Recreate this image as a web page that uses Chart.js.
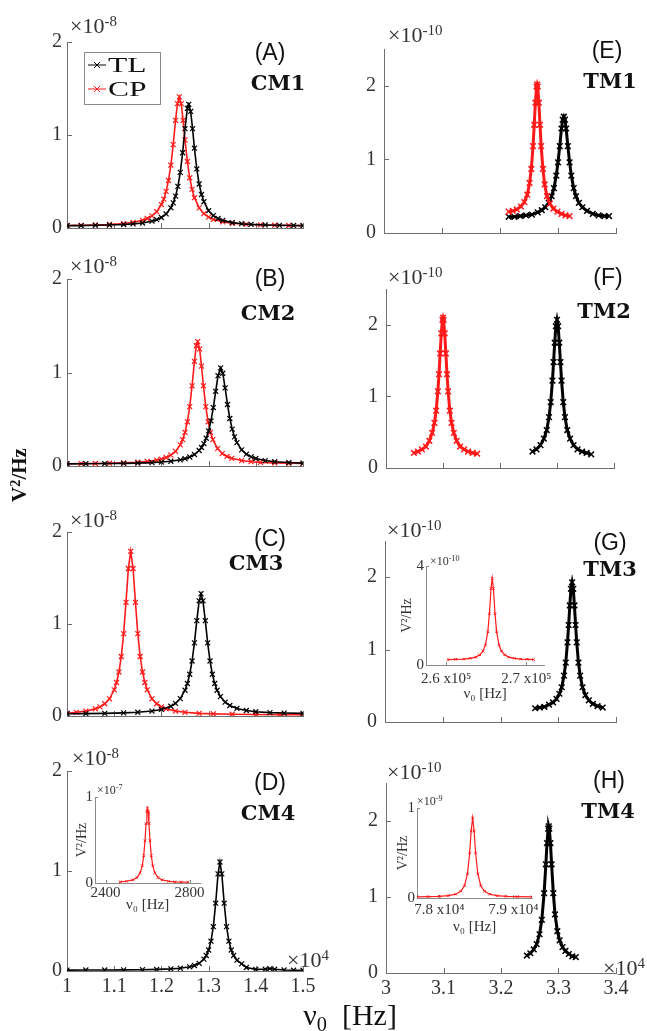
<!DOCTYPE html>
<html>
<head>
<meta charset="utf-8">
<title>TL / CP noise spectra</title>
<script src="https://cdn.jsdelivr.net/npm/chart.js@4"></script>
<style>
  body { margin: 0; background: #fff; }
  #fig { position: relative; width: 647px; height: 1031px; overflow: hidden; font-family: 'Liberation Serif', serif; color: #1a1a1a; }
  #fig canvas { position: absolute; }
  .lab { position: absolute; white-space: nowrap; line-height: 1; }
  .lab sup { font-size: 0.68em; position: relative; top: -0.45em; vertical-align: baseline; }
  .lab sub { font-size: 0.68em; position: relative; top: 0.3em; vertical-align: baseline; }
</style>
</head>
<body>
<div id="fig"></div>
<script>
// CM panels: x in 1e4 Hz, y in 1e-8 V^2/Hz
const cmTicksX = [1, 1.1, 1.2, 1.3, 1.4, 1.5]
const cmTicksY = [0, 1, 2]
// TM panels: x in 1e4 Hz, y in 1e-10 V^2/Hz
const tmTicksX = [3, 3.1, 3.2, 3.3, 3.4]
const tmTicksY = [0, 1, 2]

// (A) CM1
const cm1TLx = [1.00,1.03,1.06,1.09,1.12,1.14,1.16,1.18,1.19,1.20,1.21,1.22,1.225,1.23,1.235,1.24,1.245,1.25,1.255,1.258,1.262,1.266,1.27,1.275,1.28,1.285,1.29,1.30,1.31,1.32,1.33,1.35,1.37,1.39,1.42,1.45,1.48,1.50]
const cm1TLy = [0.025,0.026,0.029,0.032,0.037,0.044,0.054,0.073,0.089,0.113,0.151,0.217,0.27,0.343,0.447,0.598,0.809,1.068,1.286,1.33,1.253,1.068,0.858,0.635,0.473,0.36,0.282,0.186,0.133,0.102,0.082,0.058,0.046,0.039,0.033,0.029,0.027,0.026]
const cm1CPx = [1.00,1.03,1.06,1.09,1.12,1.14,1.16,1.17,1.18,1.19,1.20,1.205,1.21,1.215,1.22,1.225,1.23,1.234,1.238,1.242,1.246,1.25,1.255,1.26,1.265,1.27,1.28,1.29,1.30,1.31,1.33,1.35,1.38,1.41,1.44,1.47,1.50]
const cm1CPy = [0.027,0.029,0.033,0.038,0.048,0.061,0.083,0.102,0.13,0.175,0.252,0.31,0.394,0.511,0.675,0.897,1.158,1.337,1.41,1.337,1.158,0.948,0.715,0.54,0.415,0.326,0.216,0.154,0.117,0.093,0.066,0.051,0.04,0.033,0.03,0.027,0.026]

// (B) CM2
const cm2TLx = [1.00,1.04,1.08,1.12,1.15,1.18,1.20,1.22,1.24,1.25,1.26,1.27,1.28,1.285,1.29,1.295,1.30,1.305,1.31,1.315,1.32,1.3255,1.33,1.335,1.34,1.345,1.35,1.355,1.36,1.37,1.38,1.39,1.40,1.42,1.44,1.47,1.50]
const cm2TLy = [0.023,0.024,0.026,0.028,0.031,0.036,0.042,0.051,0.066,0.078,0.096,0.123,0.166,0.198,0.24,0.297,0.375,0.482,0.625,0.799,0.966,1.05,0.992,0.835,0.658,0.508,0.394,0.311,0.25,0.172,0.126,0.098,0.08,0.058,0.046,0.037,0.031]
const cm2CPx = [1.00,1.03,1.06,1.09,1.12,1.15,1.17,1.19,1.20,1.21,1.22,1.23,1.24,1.245,1.25,1.255,1.26,1.265,1.27,1.274,1.277,1.281,1.285,1.289,1.294,1.299,1.304,1.309,1.319,1.329,1.339,1.349,1.37,1.39,1.41,1.44,1.47,1.50]
const cm2CPy = [0.024,0.026,0.027,0.03,0.034,0.04,0.049,0.063,0.074,0.091,0.116,0.156,0.226,0.282,0.36,0.473,0.635,0.858,1.12,1.286,1.33,1.253,1.068,0.858,0.635,0.473,0.36,0.282,0.186,0.133,0.102,0.082,0.058,0.046,0.039,0.033,0.029,0.027]

// (C) CM3
const cm3TLx = [1.00,1.04,1.08,1.12,1.15,1.18,1.20,1.22,1.23,1.24,1.25,1.255,1.26,1.265,1.27,1.275,1.28,1.284,1.288,1.293,1.298,1.303,1.308,1.313,1.318,1.325,1.335,1.345,1.36,1.38,1.40,1.43,1.46,1.50]
const cm3TLy = [0.025,0.026,0.029,0.034,0.041,0.054,0.071,0.106,0.137,0.189,0.28,0.353,0.454,0.598,0.795,1.036,1.252,1.33,1.252,1.036,0.795,0.598,0.454,0.353,0.28,0.211,0.15,0.114,0.082,0.06,0.047,0.037,0.032,0.028]
const cm3CPx = [1.00,1.02,1.04,1.06,1.07,1.08,1.09,1.10,1.105,1.11,1.115,1.12,1.125,1.13,1.135,1.14,1.145,1.15,1.155,1.16,1.165,1.17,1.18,1.19,1.20,1.21,1.23,1.25,1.28,1.31,1.35,1.40,1.45,1.50]
const cm3CPy = [0.03,0.04,0.053,0.078,0.099,0.133,0.187,0.285,0.364,0.478,0.647,0.895,1.236,1.603,1.79,1.603,1.236,0.895,0.647,0.478,0.364,0.285,0.187,0.133,0.099,0.078,0.053,0.04,0.029,0.023,0.019,0.016,0.014,0.013]

// (D) CM4
const cm4TLx = [1.00,1.04,1.08,1.12,1.16,1.19,1.22,1.24,1.26,1.27,1.28,1.29,1.295,1.30,1.305,1.31,1.315,1.32,1.324,1.328,1.333,1.338,1.343,1.348,1.353,1.36,1.37,1.38,1.40,1.42,1.43,1.44,1.46,1.48,1.50]
const cm4TLy = [0.009,0.01,0.01,0.011,0.013,0.016,0.021,0.028,0.042,0.055,0.077,0.119,0.155,0.21,0.298,0.443,0.678,0.971,1.09,0.971,0.678,0.443,0.298,0.21,0.155,0.108,0.071,0.035,0.016,0.018,0.024,0.018,0.01,0.008,0.008]
// CM4 inset (CP): x in Hz, y in 1e-7 V^2/Hz
const cm4InX = [2470,2500,2530,2550,2565,2575,2582,2588,2593,2597,2600,2603,2607,2612,2618,2625,2635,2650,2670,2700,2730,2760,2793]
const cm4InY = [0.014,0.02,0.036,0.064,0.118,0.2,0.318,0.49,0.69,0.834,0.87,0.834,0.69,0.49,0.318,0.2,0.118,0.064,0.036,0.02,0.014,0.011,0.009]
const cm4InTicksX = [2400, 2800]
const cm4InTicksY = [0, 1]

// (E) TM1
const tm1TLx = [3.215,3.225,3.235,3.245,3.255,3.265,3.272,3.278,3.284,3.289,3.293,3.297,3.300,3.303,3.306,3.308,3.310,3.312,3.314,3.317,3.320,3.323,3.327,3.331,3.336,3.342,3.35,3.36,3.37,3.38,3.388]
const tm1TLy = [0.22,0.22,0.23,0.24,0.25,0.28,0.31,0.35,0.41,0.50,0.61,0.78,0.96,1.18,1.42,1.54,1.58,1.54,1.42,1.18,0.96,0.78,0.61,0.50,0.41,0.35,0.30,0.26,0.24,0.23,0.23]
const tm1CPx = [3.215,3.222,3.229,3.236,3.242,3.247,3.251,3.254,3.257,3.259,3.261,3.263,3.264,3.265,3.267,3.269,3.271,3.274,3.277,3.281,3.286,3.292,3.299,3.306,3.313,3.32]
const tm1CPy = [0.29,0.30,0.32,0.36,0.42,0.52,0.68,0.87,1.18,1.47,1.77,1.99,2.02,1.99,1.77,1.47,1.18,0.87,0.66,0.50,0.40,0.33,0.29,0.26,0.24,0.23]

// (F) TM2
const tm2TLx = [3.257,3.264,3.271,3.277,3.282,3.286,3.289,3.292,3.294,3.296,3.298,3.300,3.302,3.304,3.306,3.308,3.311,3.314,3.318,3.323,3.329,3.336,3.344,3.352,3.36]
const tm2TLy = [0.23,0.26,0.32,0.41,0.53,0.71,0.92,1.22,1.48,1.75,1.98,2.07,1.98,1.75,1.48,1.22,0.92,0.71,0.53,0.41,0.32,0.26,0.23,0.21,0.19]
const tm2CPx = [3.049,3.056,3.063,3.07,3.076,3.081,3.085,3.088,3.091,3.093,3.095,3.097,3.099,3.100,3.101,3.103,3.105,3.107,3.109,3.112,3.115,3.119,3.124,3.130,3.137,3.144,3.152,3.16]
const tm2CPy = [0.21,0.23,0.26,0.30,0.38,0.49,0.63,0.80,1.07,1.31,1.60,1.88,2.07,2.10,2.07,1.88,1.60,1.31,1.07,0.80,0.63,0.49,0.38,0.30,0.26,0.23,0.21,0.20]

// (G) TM3
const tm3TLx = [3.26,3.268,3.276,3.284,3.291,3.297,3.302,3.306,3.310,3.313,3.316,3.318,3.320,3.322,3.324,3.326,3.328,3.330,3.332,3.335,3.338,3.342,3.347,3.353,3.36,3.368,3.377]
const tm3TLy = [0.19,0.20,0.21,0.24,0.27,0.32,0.39,0.48,0.64,0.82,1.10,1.34,1.61,1.84,1.93,1.84,1.61,1.34,1.10,0.82,0.64,0.48,0.37,0.30,0.25,0.22,0.20]
// TM3 inset (CP): x in 1e5 Hz, y in 1e-10 V^2/Hz
const tm3InX = [2.6025,2.612,2.622,2.630,2.637,2.642,2.646,2.649,2.652,2.654,2.656,2.6575,2.659,2.661,2.663,2.666,2.669,2.673,2.678,2.685,2.693,2.701,2.709]
const tm3InY = [0.22,0.23,0.24,0.27,0.32,0.41,0.56,0.80,1.34,2.07,3.09,3.50,3.09,2.07,1.34,0.80,0.56,0.41,0.32,0.27,0.24,0.23,0.22]
const tm3InTicksX = [2.6, 2.7]
const tm3InTicksY = [0, 4]

// (H) TM4
const tm4TLx = [3.245,3.251,3.257,3.262,3.267,3.271,3.275,3.278,3.280,3.282,3.283,3.284,3.286,3.288,3.291,3.294,3.298,3.302,3.307,3.312,3.318,3.324,3.33]
const tm4TLy = [0.23,0.26,0.31,0.38,0.51,0.70,1.05,1.43,1.71,1.90,1.93,1.90,1.71,1.43,1.05,0.77,0.55,0.43,0.34,0.29,0.25,0.22,0.21]
// TM4 inset (CP): x in 1e4 Hz, y in 1e-9 V^2/Hz
const tm4InX = [7.77,7.785,7.80,7.812,7.822,7.829,7.834,7.838,7.841,7.843,7.845,7.847,7.849,7.852,7.856,7.861,7.868,7.878,7.89,7.905,7.925]
const tm4InY = [0.013,0.015,0.019,0.026,0.042,0.075,0.136,0.267,0.50,0.745,0.89,0.745,0.50,0.267,0.136,0.075,0.042,0.026,0.019,0.015,0.013]
const tm4InTicksX = [7.8, 7.9]
const tm4InTicksY = [0, 1]

Chart.defaults.font.family = "'Liberation Serif', 'DejaVu Serif', serif"
Chart.defaults.color = '#333'

const fig = document.getElementById('fig')
const AXIS = '#6e6e6e'
const BLACK = '#000000'
const RED = '#ff1a1a'

// matlab style ticks pointing into the plot
const inTicks = {
  id: 'inTicks',
  beforeDatasetsDraw(chart, args, o) {
    const { ctx, chartArea: a, scales: { x, y } } = chart
    const len = o.len || 5
    ctx.save()
    ctx.strokeStyle = o.color || AXIS
    ctx.lineWidth = 1
    ctx.beginPath()
    x.ticks.forEach(t => {
      const px = Math.round(x.getPixelForValue(t.value)) + 0.5
      ctx.moveTo(px, a.bottom); ctx.lineTo(px, a.bottom - len)
    })
    y.ticks.forEach(t => {
      const py = Math.round(y.getPixelForValue(t.value)) + 0.5
      ctx.moveTo(a.left, py); ctx.lineTo(a.left + len, py)
    })
    ctx.stroke()
    ctx.restore()
  }
}

// boxed legend sitting inside the plot area
const boxLegend = {
  id: 'boxLegend',
  afterDraw(chart, args, o) {
    if (!o.items) return
    const { ctx, chartArea: a } = chart
    const x0 = a.left + o.dx, y0 = a.top + o.dy
    ctx.save()
    ctx.fillStyle = '#fff'
    ctx.fillRect(x0, y0, o.w, o.h)
    ctx.strokeStyle = '#8a8a8a'
    ctx.lineWidth = 1
    ctx.strokeRect(x0 + 0.5, y0 + 0.5, o.w, o.h)
    o.items.forEach((it, i) => {
      const yy = y0 + o.row * (i + 0.5) + 1
      const mx = x0 + 13
      ctx.strokeStyle = it.color
      ctx.beginPath()
      ctx.moveTo(x0 + 4, yy); ctx.lineTo(x0 + 22, yy)
      ctx.moveTo(mx - 3, yy - 3); ctx.lineTo(mx + 3, yy + 3)
      ctx.moveTo(mx - 3, yy + 3); ctx.lineTo(mx + 3, yy - 3)
      ctx.stroke()
      ctx.save()
      ctx.translate(x0 + 24, yy)
      ctx.scale(1.5, 1)
      ctx.fillStyle = '#111'
      ctx.font = "21px 'Liberation Serif'"
      ctx.textBaseline = 'middle'
      ctx.fillText(it.text, 0, 1)
      ctx.restore()
    })
    ctx.restore()
  }
}

function line(xs, ys, color, r, w, pw) {
  return {
    data: xs.map((x, i) => ({ x, y: ys[i] })),
    showLine: true,
    borderColor: color,
    backgroundColor: color,
    borderWidth: w,
    pointStyle: 'crossRot',
    pointRadius: r,
    pointBorderWidth: pw || 1,
    pointBorderColor: color
  }
}

function place(rect, pad, cfg) {
  const c = document.createElement('canvas')
  const w = rect.r - rect.l + pad.l + pad.r
  const h = rect.b - rect.t + pad.t + pad.b
  c.width = w
  c.height = h
  c.style.left = (rect.l - pad.l) + 'px'
  c.style.top = (rect.t - pad.t) + 'px'
  c.style.width = w + 'px'
  c.style.height = h + 'px'
  fig.appendChild(c)
  return new Chart(c, cfg)
}

const PAD = { l: 44, t: 16, r: 26, b: 32 }

function mainChart(p) {
  const tickFont = { size: 20 }
  return place(p.rect, PAD, {
    type: 'scatter',
    data: { datasets: p.sets },
    options: {
      responsive: false, animation: false, events: [],
      layout: { padding: { left: 0, top: PAD.t, right: PAD.r, bottom: 0 } },
      plugins: { legend: { display: false }, tooltip: { enabled: false }, boxLegend: p.legend || {}, inTicks: { len: 5 } },
      scales: {
        x: {
          type: 'linear', min: p.xr[0], max: p.xr[1],
          afterBuildTicks: s => { s.ticks = p.xt.map(v => ({ value: v })) },
          afterFit: s => { s.height = PAD.b; s.paddingLeft = 0; s.paddingRight = 0 },
          grid: { display: false, drawTicks: false },
          border: { color: AXIS },
          ticks: { display: !!p.xLabels, font: tickFont, color: '#333', padding: 4, maxRotation: 0, autoSkip: false,
                   callback: v => String(Math.round(v * 10) / 10) }
        },
        y: {
          type: 'linear', min: 0, max: p.ymax,
          afterBuildTicks: s => { s.ticks = p.yt.map(v => ({ value: v })) },
          afterFit: s => { s.width = PAD.l; s.paddingTop = 0; s.paddingBottom = 0 },
          grid: { display: false, drawTicks: false },
          border: { color: AXIS },
          ticks: { font: tickFont, color: '#333', padding: p.ypad, callback: v => String(v) }
        }
      }
    },
    plugins: [inTicks, boxLegend]
  })
}

function insetChart(p) {
  return place(p.rect, p.pad, {
    type: 'scatter',
    data: { datasets: [line(p.xs, p.ys, RED, 1.8, 1.2)] },
    options: {
      responsive: false, animation: false, events: [],
      layout: { padding: { left: 0, top: p.pad.t, right: p.pad.r, bottom: 0 } },
      plugins: { legend: { display: false }, tooltip: { enabled: false }, inTicks: { len: 3, color: '#8a8a8a' } },
      scales: {
        x: {
          type: 'linear', min: p.xr[0], max: p.xr[1],
          afterBuildTicks: s => { s.ticks = p.xt.map(v => ({ value: v })) },
          afterFit: s => { s.height = p.pad.b; s.paddingLeft = 0; s.paddingRight = 0 },
          grid: { display: false, drawTicks: false },
          border: { color: '#8a8a8a' },
          ticks: { font: { size: 15 }, color: '#333', padding: p.xpad, maxRotation: 0, autoSkip: false, callback: p.fmt },
          title: { display: true, text: 'ν₀ [Hz]', font: { size: 15 }, color: '#333', padding: 0 }
        },
        y: {
          type: 'linear', min: 0, max: p.ymax,
          afterBuildTicks: s => { s.ticks = p.yt.map(v => ({ value: v })) },
          afterFit: s => { s.width = p.pad.l; s.paddingTop = 0; s.paddingBottom = 0 },
          grid: { display: false, drawTicks: false },
          border: { color: '#8a8a8a' },
          ticks: { font: { size: 15 }, color: '#333', padding: 2, callback: v => String(v) },
          title: { display: true, text: 'V²/Hz', font: { size: 14 }, color: '#333', padding: 0 }
        }
      }
    },
    plugins: [inTicks]
  })
}

// left column
const cm = { xr: [1, 1.5], xt: cmTicksX, yt: cmTicksY, ymax: 2, ypad: 5 }
mainChart({ ...cm, rect: { l: 67, t: 42, r: 303, b: 228 },
  sets: [line(cm1TLx, cm1TLy, BLACK, 3.5, 1.6, 1.2), line(cm1CPx, cm1CPy, RED, 3.5, 1.6, 1.2)],
  legend: { dx: 17, dy: 10, w: 76, h: 52, row: 24, items: [{ text: 'TL', color: BLACK }, { text: 'CP', color: RED }] } })
mainChart({ ...cm, rect: { l: 67, t: 279, r: 303, b: 466 },
  sets: [line(cm2TLx, cm2TLy, BLACK, 3.5, 1.6, 1.2), line(cm2CPx, cm2CPy, RED, 3.5, 1.6, 1.2)] })
mainChart({ ...cm, rect: { l: 67, t: 532, r: 303, b: 716 },
  sets: [line(cm3TLx, cm3TLy, BLACK, 3.5, 1.6, 1.2), line(cm3CPx, cm3CPy, RED, 3.5, 1.6, 1.2)] })
mainChart({ ...cm, rect: { l: 67, t: 771, r: 303, b: 971 }, xLabels: true,
  sets: [line(cm4TLx, cm4TLy, BLACK, 3.5, 1.6, 1.2)] })

// right column
const tm = { xr: [3, 3.4], xt: tmTicksX, yt: tmTicksY, ymax: 2.5, ypad: 8 }
mainChart({ ...tm, rect: { l: 384, t: 49, r: 616, b: 233 },
  sets: [line(tm1CPx, tm1CPy, RED, 4, 3, 1.5), line(tm1TLx, tm1TLy, BLACK, 4, 3, 1.5)] })
mainChart({ ...tm, rect: { l: 386, t: 289, r: 614, b: 468 },
  sets: [line(tm2CPx, tm2CPy, RED, 4, 3, 1.5), line(tm2TLx, tm2TLy, BLACK, 4, 3, 1.5)] })
mainChart({ ...tm, rect: { l: 385, t: 541, r: 616, b: 722 },
  sets: [line(tm3TLx, tm3TLy, BLACK, 4, 3, 1.5)] })
mainChart({ ...tm, rect: { l: 386, t: 783, r: 616, b: 973 }, xLabels: true,
  sets: [line(tm4TLx, tm4TLy, BLACK, 4, 3, 1.5)] })

// insets
insetChart({ rect: { l: 95, t: 797, r: 200, b: 883 }, pad: { l: 21, t: 10, r: 18, b: 31 },
  xs: cm4InX, ys: cm4InY, xr: [2350, 2850], xt: cm4InTicksX, yt: cm4InTicksY, ymax: 1, xpad: 1,
  fmt: v => String(v) })
insetChart({ rect: { l: 426, t: 566, r: 544, b: 665 }, pad: { l: 27, t: 10, r: 18, b: 38 },
  xs: tm3InX, ys: tm3InY, xr: [2.575, 2.722], xt: tm3InTicksX, yt: tm3InTicksY, ymax: 4, xpad: 5,
  fmt: v => v.toFixed(1) + ' x10⁵' })
insetChart({ rect: { l: 417, t: 808, r: 532, b: 898 }, pad: { l: 22, t: 10, r: 18, b: 38 },
  xs: tm4InX, ys: tm4InY, xr: [7.77, 7.925], xt: tm4InTicksX, yt: tm4InTicksY, ymax: 1, xpad: 3,
  fmt: v => v.toFixed(1) + ' x10⁴' })

// text around the axes
function label(html, x, y, css, anchor) {
  const d = document.createElement('div')
  d.className = 'lab'
  d.innerHTML = html
  Object.assign(d.style, css || {})
  d.style.left = x + 'px'
  d.style.top = y + 'px'
  const base = anchor === 'left' ? 'translate(0,-50%)' : 'translate(-50%,-50%)'
  d.style.transform = base + (css && css.rot ? ' rotate(-90deg)' : '')
  fig.appendChild(d)
}

const tagCss = { fontFamily: "'Liberation Sans', sans-serif", fontSize: '23px', color: '#111' }
const nameCss = { fontFamily: "'DejaVu Serif', serif", fontWeight: 'bold', fontSize: '21px', color: '#111' }
const expCss = { fontSize: '22px', color: '#333' }
const inExpCss = { fontSize: '12px', color: '#333' }

const tags = [['(A)', 270, 52], ['(B)', 270, 278], ['(C)', 270, 538], ['(D)', 270, 782],
              ['(E)', 607, 50], ['(F)', 608, 277], ['(G)', 610, 542], ['(H)', 609, 780]]
tags.forEach(t => label(t[0], t[1], t[2], tagCss))

const names = [['CM1', 278, 82], ['CM2', 268, 312], ['CM3', 256, 562], ['CM4', 268, 812],
               ['TM1', 610, 80], ['TM2', 604, 310], ['TM3', 610, 568], ['TM4', 608, 810]]
names.forEach(t => label(t[0], t[1], t[2], nameCss))

const exps = [['-8', 70, 26], ['-8', 70, 266], ['-8', 70, 520], ['-8', 72, 758],
              ['-10', 388, 35], ['-10', 388, 277], ['-10', 387, 530], ['-10', 387, 772]]
exps.forEach(t => label('×10<sup>' + t[0] + '</sup>', t[1], t[2], expCss, 'left'))
label('×10<sup>4</sup>', 287, 960, expCss, 'left')
label('×10<sup>4</sup>', 603, 968, expCss, 'left')

label('×10<sup>-7</sup>', 97, 790, inExpCss, 'left')
label('×10<sup>-10</sup>', 430, 561, inExpCss, 'left')
label('×10<sup>-9</sup>', 417, 801, inExpCss, 'left')

label('V<sup>2</sup>/Hz', 19, 475, { fontSize: '21px', fontWeight: 'bold', color: '#111', rot: true })
label('ν<sub>0</sub> &nbsp;[Hz]', 350, 1015, { fontSize: '30px', color: '#111' })
</script>
</body>
</html>
